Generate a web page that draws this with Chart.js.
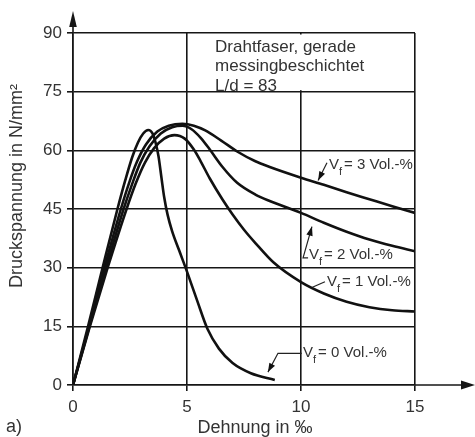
<!DOCTYPE html>
<html><head><meta charset="utf-8">
<script src="https://cdn.jsdelivr.net/npm/chart.js@4.4.1/dist/chart.umd.min.js"></script>
<style>html,body{margin:0;padding:0;background:#fff}canvas{display:block}</style>
</head><body>
<canvas id="c" width="475" height="437"></canvas>
<script>
const xTicks = [0, 5, 10, 15];
const yTicks = [0, 15, 30, 45, 60, 75, 90];
const seriesNames = ['V_f = 0 Vol.-%', 'V_f = 1 Vol.-%', 'V_f = 2 Vol.-%', 'V_f = 3 Vol.-%'];

const v0x = [0, 0.66, 1.3, 1.95, 2.3, 2.6, 2.85, 3.08, 3.3, 3.48, 3.62, 3.75, 3.88, 4.0, 4.15, 4.35, 4.65, 5.0, 5.45, 5.9, 6.4, 7.0, 7.8, 8.85];
const v0y = [0, 15, 30, 45, 52.5, 58.3, 62, 64.3, 65.2, 64.4, 62, 58.5, 53, 48, 43.5, 39.3, 34.5, 29, 21.5, 14.3, 9.3, 5.6, 3.0, 1.3];

const v1x = [0, 0.74, 1.52, 2.35, 2.75, 3.15, 3.55, 4.0, 4.45, 4.9, 5.3, 5.6, 6.0, 6.55, 7.0, 7.5, 8.0, 8.8, 10, 11, 12, 13, 14, 15];
const v1y = [0, 15, 30, 45, 51.5, 56.8, 60.5, 63, 63.9, 63, 60.2, 57.2, 52.8, 47.5, 43.6, 39.7, 36.3, 31.3, 26.3, 23.4, 21.3, 19.9, 19.1, 18.8];

const v2x = [0, 0.72, 1.45, 2.22, 2.6, 2.95, 3.35, 3.85, 4.35, 4.8, 5.2, 5.6, 6.0, 6.55, 7.2, 8.0, 8.6, 10, 11, 12, 13, 14, 15];
const v2y = [0, 15, 30, 45, 51.5, 56.8, 61, 64.3, 65.9, 66.3, 65.4, 63.2, 60.2, 55.8, 51.7, 48.7, 47.1, 44, 41.5, 39.2, 37.2, 35.6, 34.2];

const v3x = [0, 0.7, 1.38, 2.1, 2.45, 2.8, 3.2, 3.7, 4.2, 4.8, 5.3, 5.8, 6.5, 7.2, 8.0, 8.6, 10, 11, 12, 13, 14, 15];
const v3y = [0, 15, 30, 45, 51.5, 57, 61.5, 64.8, 66.3, 66.8, 66.3, 65.1, 62.5, 59.7, 57.2, 55.8, 53, 51.2, 49.3, 47.5, 45.7, 44];

const FONT = '"Liberation Sans", Arial, Helvetica, sans-serif';
const TXT = '#333';
const LINE = '#161616';

function pts(xs, ys) { return xs.map((x, i) => ({x: x, y: ys[i]})); }
function ds(label, xs, ys) {
  return {label: label, data: pts(xs, ys), borderColor: '#111', borderWidth: 2.6,
    pointRadius: 0, fill: false, cubicInterpolationMode: 'monotone'};
}

// annotation anchor points in data units
const labels = [
  {n: '3', text: [11.23, 56.3], line: [[11.14, 56.8], [10.75, 52.3]], head: true},
  {n: '2', text: [10.35, 33.2], line: [[10.31, 32.5], [10.09, 32.5], [10.48, 40.5]], head: true},
  {n: '1', text: [11.14, 26.3], line: [[11.05, 26.4], [10.5, 25.0]], head: false},
  {n: '0', text: [10.09, 8.2], line: [[10.03, 8.1], [8.99, 8.1], [8.55, 3.3]], head: true}
];
const boxLines = ['Drahtfaser, gerade', 'messingbeschichtet', 'L/d = 83'];
const boxY = [86.4, 81.5, 76.4];

const deco = {
  id: 'deco',
  beforeDatasetsDraw(chart) {
    const {ctx, scales: {x, y}} = chart;
    ctx.save();
    ctx.fillStyle = '#fff';
    ctx.fillRect(x.getPixelForValue(5) + 1.5, y.getPixelForValue(90) + 1.5,
      x.getPixelForValue(15) - x.getPixelForValue(5) - 3, y.getPixelForValue(75) - y.getPixelForValue(90) - 3);
    ctx.fillStyle = TXT;
    ctx.font = '17px ' + FONT;
    ctx.textBaseline = 'middle';
    ctx.textAlign = 'left';
    boxLines.forEach((t, i) => ctx.fillText(t, x.getPixelForValue(6.23), y.getPixelForValue(boxY[i])));
    ctx.restore();
  },
  afterDraw(chart) {
    const {ctx, chartArea: a, scales: {x, y}} = chart;
    ctx.save();
    ctx.strokeStyle = LINE; ctx.fillStyle = LINE; ctx.lineWidth = 1.6;
    ctx.beginPath(); ctx.moveTo(a.left, a.top); ctx.lineTo(a.left, 22); ctx.stroke();
    ctx.beginPath(); ctx.moveTo(a.left, 11); ctx.lineTo(a.left - 3.8, 27); ctx.lineTo(a.left + 3.8, 27); ctx.closePath(); ctx.fill();
    ctx.beginPath(); ctx.moveTo(a.right, a.bottom); ctx.lineTo(466, a.bottom); ctx.stroke();
    ctx.beginPath(); ctx.moveTo(475, a.bottom); ctx.lineTo(461, a.bottom - 4.5); ctx.lineTo(461, a.bottom + 4.5); ctx.closePath(); ctx.fill();

    labels.forEach(L => {
      const p = L.line.map(q => [x.getPixelForValue(q[0]), y.getPixelForValue(q[1])]);
      ctx.strokeStyle = '#222'; ctx.lineWidth = 1.2;
      ctx.beginPath(); ctx.moveTo(p[0][0], p[0][1]);
      for (let i = 1; i < p.length; i++) ctx.lineTo(p[i][0], p[i][1]);
      ctx.stroke();
      if (L.head) {
        const e = p[p.length - 1], s = p[p.length - 2];
        const ang = Math.atan2(e[1] - s[1], e[0] - s[0]);
        const len = 9, w = 3.2;
        ctx.fillStyle = '#111';
        ctx.beginPath();
        ctx.moveTo(e[0], e[1]);
        ctx.lineTo(e[0] - len * Math.cos(ang) + w * Math.sin(ang), e[1] - len * Math.sin(ang) - w * Math.cos(ang));
        ctx.lineTo(e[0] - len * Math.cos(ang) - w * Math.sin(ang), e[1] - len * Math.sin(ang) + w * Math.cos(ang));
        ctx.closePath(); ctx.fill();
      }
      const tx = x.getPixelForValue(L.text[0]), ty = y.getPixelForValue(L.text[1]);
      ctx.fillStyle = TXT; ctx.textBaseline = 'middle'; ctx.textAlign = 'left';
      ctx.font = '15px ' + FONT;
      ctx.fillText('V', tx, ty);
      let cx = tx + ctx.measureText('V').width;
      ctx.font = '11px ' + FONT;
      ctx.fillText('f', cx, ty + 7);
      cx += ctx.measureText('f').width + 2;
      ctx.font = '15px ' + FONT;
      ctx.fillText('= ' + L.n + ' Vol.-%', cx, ty);
    });

    ctx.fillStyle = TXT; ctx.font = '18px ' + FONT; ctx.textBaseline = 'middle';
    ctx.textAlign = 'center';
    ctx.fillText('Dehnung in \u2030', 255, 428);
    ctx.textAlign = 'left';
    ctx.fillText('a)', 6, 427);
    ctx.save();
    ctx.translate(17, 186); ctx.rotate(-Math.PI / 2);
    ctx.textAlign = 'center';
    ctx.fillText('Druckspannung in N/mm\u00B2', 0, 0);
    ctx.restore();
    ctx.restore();
  }
};

new Chart(document.getElementById('c'), {
  type: 'line',
  data: {datasets: [ds(seriesNames[0], v0x, v0y), ds(seriesNames[1], v1x, v1y), ds(seriesNames[2], v2x, v2y), ds(seriesNames[3], v3x, v3y)]},
  options: {
    responsive: false, animation: false, devicePixelRatio: 1,
    layout: {padding: {left: 0, right: 60, top: 33, bottom: 0}},
    plugins: {legend: {display: false}, tooltip: {enabled: false}},
    scales: {
      x: {type: 'linear', min: 0, max: 15,
        afterBuildTicks: s => { s.ticks = xTicks.map(v => ({value: v})); },
        afterFit: s => { s.height = 52; },
        ticks: {font: {size: 17, family: FONT}, color: TXT, padding: 6, maxRotation: 0, autoSkip: false},
        grid: {color: LINE, lineWidth: 1.6, tickLength: 6},
        border: {color: LINE, width: 1.6}},
      y: {type: 'linear', min: 0, max: 90,
        afterBuildTicks: s => { s.ticks = yTicks.map(v => ({value: v})); },
        afterFit: s => { s.width = 73; },
        ticks: {font: {size: 17, family: FONT}, color: TXT, padding: 5, autoSkip: false},
        grid: {color: LINE, lineWidth: 1.6, tickLength: 6},
        border: {color: LINE, width: 1.6}}
    }
  },
  plugins: [deco]
});
</script>
</body></html>
